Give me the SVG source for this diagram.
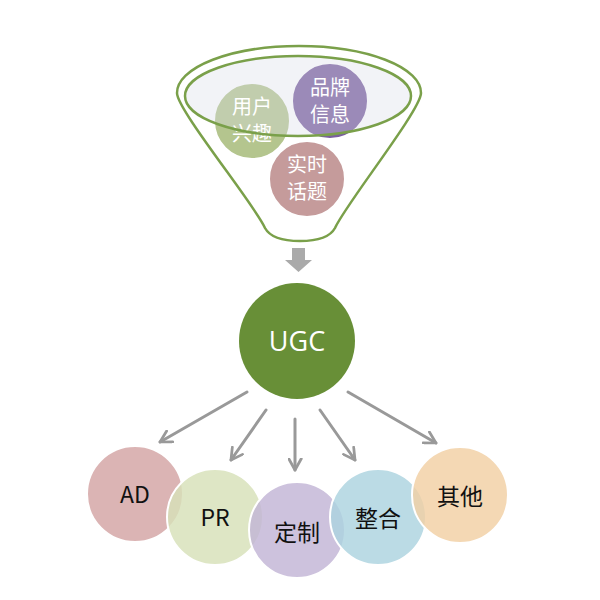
<svg xmlns="http://www.w3.org/2000/svg" width="600" height="600" viewBox="0 0 600 600">
<style>
.wt{font-family:"Noto Sans CJK SC","Liberation Sans",sans-serif;fill:#fff;text-anchor:middle;font-size:20px}
.bt{font-family:"Noto Sans CJK SC","Liberation Sans",sans-serif;fill:#111;text-anchor:middle;font-size:23px}
.bc{stroke:#fff;stroke-width:2;fill-opacity:0.82}
.conn{stroke:#999;stroke-width:3;fill:none;stroke-linecap:round}
.fc{stroke:#fff;stroke-width:2}
</style>
<defs>
<marker id="ah" viewBox="0 0 12 12" refX="10" refY="6" markerWidth="5" markerHeight="5" orient="auto" markerUnits="strokeWidth">
<polyline points="1,1 10,6 1,11" fill="none" stroke="#999" stroke-width="2.2" stroke-linecap="round" stroke-linejoin="round"/>
</marker>
</defs>
<rect width="600" height="600" fill="#fff"/>
<g id="funnel">
<path d="M177,93 A122,47 0 0 1 421,93 C421,110 345,205 335,228 Q328,241 300,241 Q272,241 265,228 C255,205 177,110 177,93 Z" fill="#fff" stroke="#7aa04a" stroke-width="2.5"/>
</g>
<g id="n-interest">
<circle class="fc" cx="252" cy="121" r="38" fill="#b4c58e"/>
</g>
<g id="n-brand">
<circle class="fc" cx="330" cy="101" r="38" fill="#7a5e9f"/>
</g>
<g id="n-topic">
<circle class="fc" cx="307" cy="179" r="38" fill="#c59b9b"/>
<text class="wt" x="307" y="172">实时</text>
<text class="wt" x="307" y="199">话题</text>
</g>
<g id="funnel-top-fill">
<ellipse cx="298" cy="96" rx="113" ry="40" fill="#d9dde9" fill-opacity="0.35"/>
</g>
<g id="n-interest-label">
<text class="wt" x="252" y="114">用户</text>
<text class="wt" x="252" y="141">兴趣</text>
</g>
<g id="n-brand-label">
<text class="wt" x="330" y="95">品牌</text>
<text class="wt" x="330" y="122">信息</text>
</g>
<g id="funnel-top">
<ellipse cx="298" cy="96" rx="113" ry="40" fill="none" stroke="#7aa04a" stroke-width="2.5"/>
</g>
<g id="down-arrow">
<polygon points="292,248 305,248 305,260 312,260 298.5,272 285,260 292,260" fill="#aaa"/>
</g>
<g id="n-ugc">
<circle cx="297" cy="341" r="58" fill="#688f37"/>
<text x="297" y="351" font-family="'Open Sans','Liberation Sans',sans-serif" font-size="27" fill="#fff" text-anchor="middle">UGC</text>
</g>
<g id="connectors">
<line class="conn" x1="247" y1="392" x2="160" y2="442" marker-end="url(#ah)"/>
<line class="conn" x1="266" y1="410" x2="231" y2="460" marker-end="url(#ah)"/>
<line class="conn" x1="295" y1="419" x2="295" y2="470" marker-end="url(#ah)"/>
<line class="conn" x1="320" y1="410" x2="355" y2="460" marker-end="url(#ah)"/>
<line class="conn" x1="348" y1="392" x2="436" y2="443" marker-end="url(#ah)"/>
</g>
<g id="n-ad">
<circle class="bc" cx="135" cy="494" r="48" fill="#d3a3a3"/>
<text class="bt" x="135" y="503">AD</text>
</g>
<g id="n-pr">
<circle class="bc" cx="215" cy="517" r="48" fill="#d7e1b8"/>
<text class="bt" x="215" y="526">PR</text>
</g>
<g id="n-custom">
<circle class="bc" cx="297" cy="530" r="48" fill="#c2b4d6"/>
<text class="bt" x="297" y="541">定制</text>
</g>
<g id="n-integrate">
<circle class="bc" cx="378" cy="517" r="48" fill="#acd3df"/>
<text class="bt" x="378" y="527">整合</text>
</g>
<g id="n-other">
<circle class="bc" cx="460" cy="495" r="48" fill="#f2cfa3"/>
<text class="bt" x="460" y="505">其他</text>
</g>
</svg>
